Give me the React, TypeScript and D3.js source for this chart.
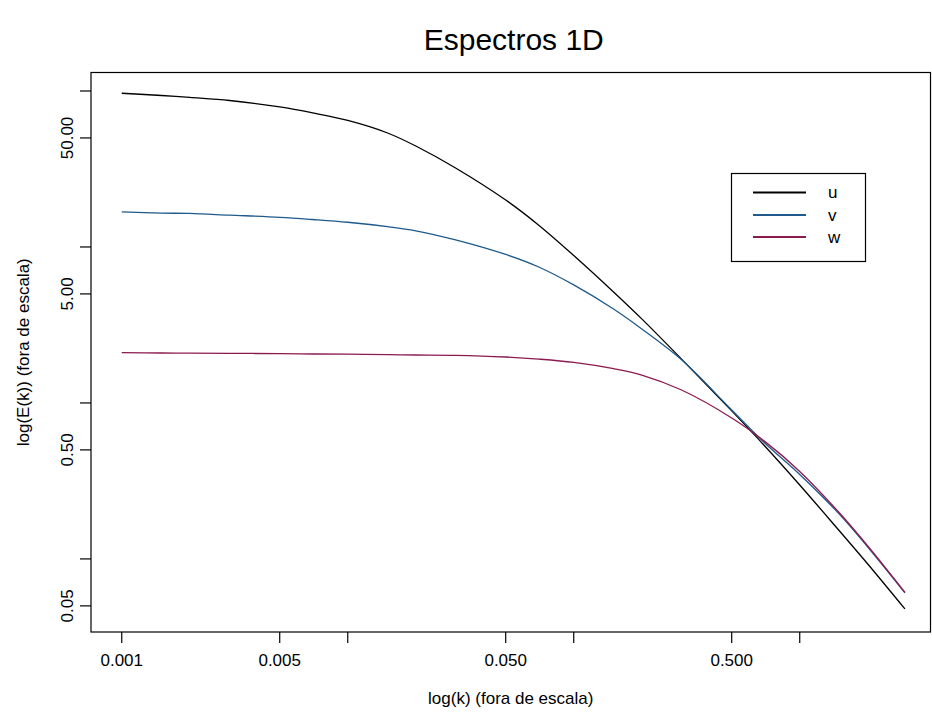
import React from "react";
import * as d3 from "d3";

// Wavenumber samples (shared by the three spectra)
const kValues = [
  0.001, 0.0015, 0.002, 0.003, 0.005, 0.007, 0.01, 0.015, 0.02, 0.03, 0.05,
  0.07, 0.1, 0.15, 0.2, 0.3, 0.5, 0.7, 1, 1.5, 2, 2.92,
];

// 1D energy spectra per velocity component
const uValues = [
  96.7, 93.6, 90.9, 86.9, 79.0, 72.3, 64.7, 53.8, 44.4, 32.1, 20.0, 13.8, 8.82,
  5.15, 3.46, 1.91, 0.889, 0.53, 0.298, 0.151, 0.0928, 0.0478,
];
const vValues = [
  16.8, 16.5, 16.4, 16.0, 15.5, 15.0, 14.4, 13.5, 12.7, 11.1, 8.95, 7.44, 5.71,
  4.0, 2.98, 1.89, 0.902, 0.554, 0.348, 0.193, 0.119, 0.0606,
];
const wValues = [
  2.1, 2.09, 2.085, 2.08, 2.07, 2.06, 2.055, 2.04, 2.03, 2.02, 1.97, 1.91, 1.82,
  1.66, 1.51, 1.21, 0.801, 0.567, 0.364, 0.197, 0.121, 0.061,
];

const seriesNames = ["u", "v", "w"];
const seriesColors = ["#000000", "#1f5a8c", "#8b1a4f"];

// Axis ticks
const xTicks = [0.001, 0.005, 0.01, 0.05, 0.1, 0.5, 1];
const xTickLabels = ["0.001", "0.005", "", "0.050", "", "0.500", ""];
const yTicks = [0.05, 0.1, 0.5, 1, 5, 10, 50, 100];
const yTickLabels = ["0.05", "", "0.50", "", "5.00", "", "50.00", ""];

const W = 932;
const H = 718;
const box = { left: 91, right: 930.5, top: 72.5, bottom: 632 };
const FONT = "'Liberation Sans', Arial, Helvetica, sans-serif";

export default function App() {
  const x = d3
    .scaleLog()
    .domain([0.000731, 3.79])
    .range([box.left, box.right]);
  const y = d3
    .scaleLog()
    .domain([0.034, 131.4])
    .range([box.bottom, box.top]);

  const series = [uValues, vValues, wValues];
  const line = d3
    .line<[number, number]>()
    .x((d) => x(d[0]))
    .y((d) => y(d[1]))
    .curve(d3.curveCatmullRom.alpha(0.5));

  const cx = (box.left + box.right) / 2;
  const cy = (box.top + box.bottom) / 2;

  const legend = { x0: 731.5, y0: 173.5, w: 134, h: 88 };
  const legendRows = [192.5, 215, 237];

  return (
    <svg
      width={W}
      height={H}
      style={{ position: "absolute", left: 0, top: 0, background: "#fff" }}
      fontFamily={FONT}
    >
      <rect x={0} y={0} width={W} height={H} fill="#fff" />

      {/* title */}
      <text x={cx + 3} y={50} fontSize={30} textAnchor="middle" fill="#000">
        Espectros 1D
      </text>

      {/* spectra */}
      {series.map((vals, i) => (
        <path
          key={seriesNames[i]}
          d={line(kValues.map((k, j) => [k, vals[j]] as [number, number])) || ""}
          fill="none"
          stroke={seriesColors[i]}
          strokeWidth={1.3}
        />
      ))}

      {/* frame */}
      <rect
        x={box.left}
        y={box.top}
        width={box.right - box.left}
        height={box.bottom - box.top}
        fill="none"
        stroke="#000"
        strokeWidth={1.2}
      />

      {/* x axis */}
      {xTicks.map((t, i) => (
        <g key={"xt" + t}>
          <line
            x1={x(t)}
            x2={x(t)}
            y1={box.bottom}
            y2={box.bottom + 11}
            stroke="#000"
            strokeWidth={1.2}
          />
          {xTickLabels[i] && (
            <text
              x={x(t)}
              y={666}
              fontSize={17}
              textAnchor="middle"
              fill="#000"
            >
              {xTickLabels[i]}
            </text>
          )}
        </g>
      ))}
      <text x={cx} y={704} fontSize={17} textAnchor="middle" fill="#000">
        log(k) (fora de escala)
      </text>

      {/* y axis */}
      {yTicks.map((t, i) => (
        <g key={"yt" + t}>
          <line
            x1={box.left - 11}
            x2={box.left}
            y1={y(t)}
            y2={y(t)}
            stroke="#000"
            strokeWidth={1.2}
          />
          {yTickLabels[i] && (
            <text
              transform={`translate(73,${y(t)}) rotate(-90)`}
              fontSize={17}
              textAnchor="middle"
              fill="#000"
            >
              {yTickLabels[i]}
            </text>
          )}
        </g>
      ))}
      <text
        transform={`translate(29,${cy}) rotate(-90)`}
        fontSize={17}
        textAnchor="middle"
        fill="#000"
      >
        log(E(k)) (fora de escala)
      </text>

      {/* legend */}
      <rect
        x={legend.x0}
        y={legend.y0}
        width={legend.w}
        height={legend.h}
        fill="#fff"
        stroke="#000"
        strokeWidth={1.2}
      />
      {seriesNames.map((name, i) => (
        <g key={"lg" + name}>
          <line
            x1={753}
            x2={806}
            y1={legendRows[i]}
            y2={legendRows[i]}
            stroke={seriesColors[i]}
            strokeWidth={2.2}
          />
          <text
            x={828}
            y={legendRows[i]}
            dy="0.35em"
            fontSize={17}
            fill="#000"
          >
            {name}
          </text>
        </g>
      ))}
    </svg>
  );
}
